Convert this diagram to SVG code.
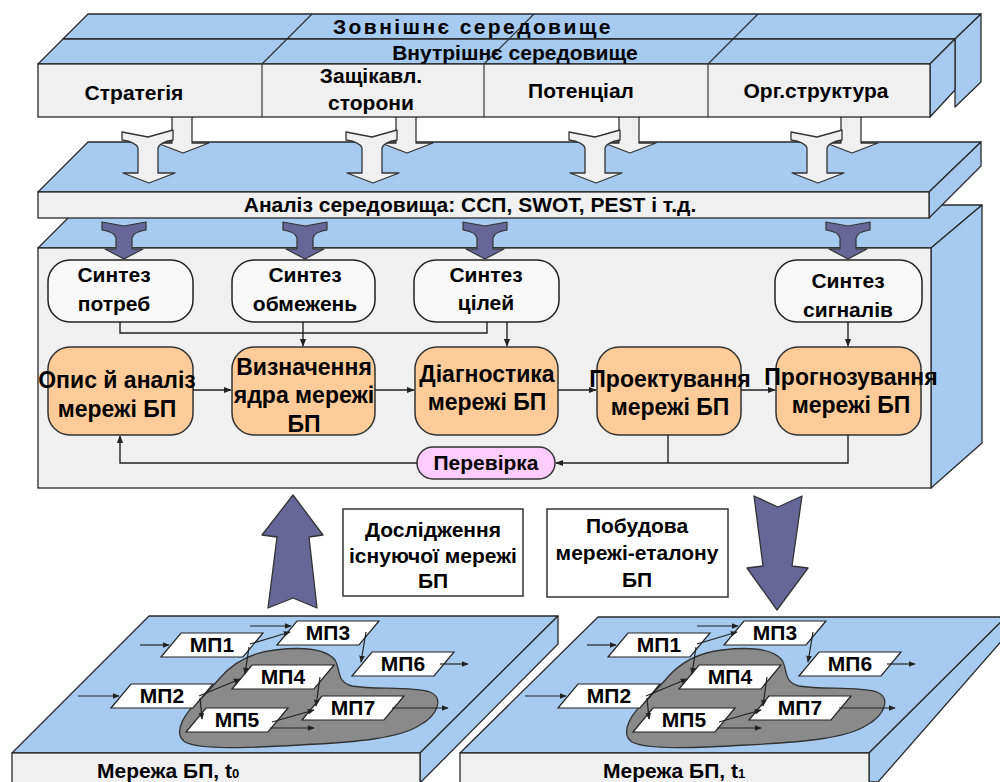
<svg xmlns="http://www.w3.org/2000/svg" xmlns:xlink="http://www.w3.org/1999/xlink" width="1000" height="782" viewBox="0 0 1000 782">
<style>
.face{fill:#A6CAF0;stroke:#2a2a2a;stroke-width:1.3;stroke-linejoin:round}
.front{fill:#F0F0F0;stroke:#2a2a2a;stroke-width:1.3}
.sep{stroke:#2a2a2a;stroke-width:1.1;fill:none}
.t{font-family:"Liberation Sans",Arial,sans-serif;font-weight:bold;font-size:21px;fill:#000;text-anchor:middle}
.tb{font-size:23px}
.syn{fill:#F8F8F8;stroke:#222;stroke-width:1.5}
.proc{fill:#FFCC99;stroke:#333;stroke-width:1.5}
.chk{fill:#FFCCFF;stroke:#333;stroke-width:1.5}
.conn{fill:none;stroke:#222;stroke-width:1.4}
.nconn{fill:none;stroke:#222;stroke-width:1.2}
.warr{fill:#F0F0F0;stroke:#333;stroke-width:1.3;stroke-linejoin:round}
.parr{fill:#666699;stroke:#333;stroke-width:1.2;stroke-linejoin:round}
.big{fill:#666699;stroke:#333;stroke-width:1.3;stroke-linejoin:round}
.mp{fill:#fff;stroke:#222;stroke-width:1.2}
.box{fill:#fff;stroke:#333;stroke-width:1.5}
.blob{fill:#8a8a8a;stroke:#333;stroke-width:1.3}
</style>
<defs>
<marker id="ah" viewBox="0 0 10 10" refX="9" refY="5" markerWidth="8" markerHeight="8" markerUnits="userSpaceOnUse" orient="auto"><path d="M0,1 L10,5 L0,9 Z" fill="#222"/></marker>
<marker id="ahs" viewBox="0 0 10 10" refX="9" refY="5" markerWidth="7" markerHeight="7" markerUnits="userSpaceOnUse" orient="auto"><path d="M0,1 L10,5 L0,9 Z" fill="#222"/></marker>
<path id="wa" class="warr" d="M-26,2 L0,7 L25,0 L25,10 Q12,12 10,18 L10,43 L27,43 L1,53 L-25,43 L-10,43 L-10,18 Q-12,12 -26,10 Z"/>
<path id="pa" class="parr" d="M-22,0 L0,4 L22,0 L22,8 Q9,10 8,16 L8,27 L19,27 L0,37 L-19,27 L-8,27 L-8,16 Q-9,10 -22,8 Z"/>
<path id="para" class="mp" d="M-31,-12 L51,-12 L31,12 L-51,12 Z"/>
</defs>
<rect width="1000" height="782" fill="#fff"/>

<!-- core slab -->
<g id="core-slab">
<polygon class="face" points="81,205 982,205 931,248 38,248"/>
<polygon class="face" points="931,248 982,205 982,443 931,488"/>
<rect class="front" x="38" y="248" width="893" height="240"/>
</g>

<!-- analysis band -->
<g id="analysis">
<polygon class="face" points="88,142 981,142 929,192 38,192"/>
<polygon class="face" points="929,192 981,142 981,166 929,218"/>
<rect class="front" x="38" y="192" width="891" height="26"/>
<text class="t" x="470" y="212">Аналіз середовища: ССП, SWOT, PEST і т.д.</text>
</g>

<!-- back white arrows -->
<g id="white-arrows-back">
<use xlink:href="#wa" href="#wa" transform="translate(182,100)"/>
<use xlink:href="#wa" href="#wa" transform="translate(406,100)"/>
<use xlink:href="#wa" href="#wa" transform="translate(629,100)"/>
<use xlink:href="#wa" href="#wa" transform="translate(851,100)"/>
</g>

<!-- top slab -->
<g id="environment">
<polygon class="face" points="88,14 981,14 955,39 63,39"/>
<polygon class="face" points="955,39 981,14 981,82 955,107"/>
<polygon class="face" points="63,39 955,39 930,64 38,64"/>
<polygon class="face" points="930,64 955,39 955,90 930,117"/>
<rect class="front" x="38" y="64" width="892" height="53"/>
<path class="sep" d="M262,64 L312,14 M484,64 L534,14 M708,64 L758,14 M262,64 V117 M484,64 V117 M708,64 V117"/>
<text class="t" x="473" y="34" letter-spacing="2.4">Зовнішнє середовище</text>
<text class="t" x="515" y="60">Внутрішнє середовище</text>
</g>
<g id="strategy"><text class="t" x="134" y="100">Стратегія</text></g>
<g id="stakeholders"><text class="t" x="371" y="83">Защікавл.</text><text class="t" x="371" y="110">сторони</text></g>
<g id="potential"><text class="t" x="581" y="98">Потенціал</text></g>
<g id="orgstructure"><text class="t" x="816" y="98">Орг.структура</text></g>

<!-- front white arrows -->
<g id="white-arrows-front">
<use xlink:href="#wa" href="#wa" transform="translate(148,130)"/>
<use xlink:href="#wa" href="#wa" transform="translate(372,130)"/>
<use xlink:href="#wa" href="#wa" transform="translate(595,130)"/>
<use xlink:href="#wa" href="#wa" transform="translate(817,130)"/>
</g>

<!-- purple arrows -->
<g id="purple-arrows">
<use xlink:href="#pa" href="#pa" transform="translate(124,222)"/>
<use xlink:href="#pa" href="#pa" transform="translate(305,222)"/>
<use xlink:href="#pa" href="#pa" transform="translate(485,222)"/>
<use xlink:href="#pa" href="#pa" transform="translate(848,222)"/>
</g>

<!-- core nodes -->
<g id="syn-needs"><rect class="syn" x="48" y="260" width="145" height="62" rx="22"/><text class="t" x="114" y="282">Синтез</text><text class="t" x="114" y="311">потреб</text></g>
<g id="syn-limits"><rect class="syn" x="232" y="260" width="143" height="62" rx="22"/><text class="t" x="305" y="282">Синтез</text><text class="t" x="305" y="311">обмежень</text></g>
<g id="syn-goals"><rect class="syn" x="414" y="260" width="145" height="62" rx="22"/><text class="t" x="486" y="282">Синтез</text><text class="t" x="486" y="310">цілей</text></g>
<g id="syn-signals"><rect class="syn" x="775" y="260" width="147" height="62" rx="22"/><text class="t" x="848" y="288">Синтез</text><text class="t" x="848" y="317">сигналів</text></g>

<g id="describe"><rect class="proc" x="48" y="347" width="145" height="88" rx="22"/><text class="t tb" x="117" y="388">Опис й аналіз</text><text class="t tb" x="117" y="417">мережі БП</text></g>
<g id="core-def"><rect class="proc" x="232" y="347" width="143" height="88" rx="22"/><text class="t tb" x="304" y="375">Визначення</text><text class="t tb" x="304" y="403">ядра мережі</text><text class="t tb" x="304" y="432">БП</text></g>
<g id="diagnostics"><rect class="proc" x="415" y="347" width="143" height="88" rx="22"/><text class="t tb" x="487" y="382">Діагностика</text><text class="t tb" x="487" y="410">мережі БП</text></g>
<g id="design"><rect class="proc" x="597" y="347" width="144" height="88" rx="22"/><text class="t tb" x="670" y="387">Проектування</text><text class="t tb" x="670" y="415">мережі БП</text></g>
<g id="forecast"><rect class="proc" x="776" y="347" width="145" height="88" rx="22"/><text class="t tb" x="851" y="385">Прогнозування</text><text class="t tb" x="851" y="413">мережі БП</text></g>
<g id="check"><rect class="chk" x="417" y="447" width="138" height="32" rx="16"/><text class="t" x="486" y="470" font-size="22">Перевірка</text></g>

<g id="connectors">
<path class="conn" d="M120,322 V333 H487 V322"/>
<path class="conn" d="M303,322 V346" marker-end="url(#ah)"/>
<path class="conn" d="M507,322 V346" marker-end="url(#ah)"/>
<path class="conn" d="M848,322 V346" marker-end="url(#ah)"/>
<path class="conn" d="M193,390 H231" marker-end="url(#ah)"/>
<path class="conn" d="M375,390 H414" marker-end="url(#ah)"/>
<path class="conn" d="M558,390 H596" marker-end="url(#ah)"/>
<path class="conn" d="M741,390 H775" marker-end="url(#ah)"/>
<path class="conn" d="M668,435 V463"/>
<path class="conn" d="M848,435 V463 H556" marker-end="url(#ah)"/>
<path class="conn" d="M417,463 H120 V436" marker-end="url(#ah)"/>
</g>

<!-- big arrows -->
<g id="arrow-up"><path class="big" d="M293,495 L323,535 L309,537 L317,608 L293,598 L268,608 L277,537 L262,535 Z"/></g>
<g id="arrow-down"><path class="big" d="M754,496 L778,507 L802,496 L792,566 L808,568 L777,610 L747,568 L763,566 Z"/></g>

<g id="research"><rect class="box" x="343" y="509" width="180" height="87"/><text class="t" x="433" y="537">Дослідження</text><text class="t" x="433" y="563">існуючої мережі</text><text class="t" x="433" y="588">БП</text></g>
<g id="build"><rect class="box" x="547" y="509" width="181" height="88"/><text class="t" x="637" y="533">Побудова</text><text class="t" x="637" y="560">мережі-еталону</text><text class="t" x="637" y="587">БП</text></g>

<!-- bottom left slab -->
<g id="slab-t0">
<polygon class="face" points="149,616 558,616 420,753 12,753"/>
<polygon class="face" points="420,753 558,616 558,644 421,782 420,782"/>
<rect class="front" x="12" y="753" width="408" height="40"/>
<text class="t" x="97" y="778" text-anchor="start" style="text-anchor:start">Мережа БП, t<tspan font-size="13">0</tspan></text>
</g>
<!-- bottom right slab -->
<g id="slab-t1">
<polygon class="face" points="598,617 1006,617 869,753 460,753"/>
<polygon class="face" points="869,753 1006,617 1006,636 878,782 869,782"/>
<rect class="front" x="460" y="753" width="409" height="40"/>
<text class="t" x="603" y="778" style="text-anchor:start">Мережа БП, t<tspan font-size="13">1</tspan></text>
</g>

<g id="net-t0">
<path class="blob" d="M220,678 C232,664 248,653 275,650 C300,647 325,648 335,660 C341,670 336,682 352,686 C375,690 410,686 430,692 C444,698 438,715 420,725 C400,738 360,742 300,745 C250,748 200,750 185,742 C172,733 185,712 200,700 C207,692 214,685 220,678 Z"/>
<g id="t0-mp1" transform="translate(212,645)"><use xlink:href="#para" href="#para"/><text class="t" y="7">МП1</text></g>
<g id="t0-mp3" transform="translate(328,633)"><use xlink:href="#para" href="#para"/><text class="t" y="7">МП3</text></g>
<g id="t0-mp6" transform="translate(403,664)"><use xlink:href="#para" href="#para"/><text class="t" y="7">МП6</text></g>
<g id="t0-mp4" transform="translate(283,677)"><use xlink:href="#para" href="#para"/><text class="t" y="7">МП4</text></g>
<g id="t0-mp2" transform="translate(162,696)"><use xlink:href="#para" href="#para"/><text class="t" y="7">МП2</text></g>
<g id="t0-mp5" transform="translate(237,720)"><use xlink:href="#para" href="#para"/><text class="t" y="7">МП5</text></g>
<g id="t0-mp7" transform="translate(353,708)"><use xlink:href="#para" href="#para"/><text class="t" y="7">МП7</text></g>
<g id="t0-connectors">
<path class="nconn" d="M140,645 H169" marker-end="url(#ahs)"/>
<path class="nconn" d="M250,626 H291" marker-end="url(#ahs)"/>
<path class="nconn" d="M78,696 H119" marker-end="url(#ahs)"/>
<path class="nconn" d="M440,664 H468" marker-end="url(#ahs)"/>
<path class="nconn" d="M392,708 H448" marker-end="url(#ahs)"/>
<path class="nconn" d="M250,644 L290,632" marker-end="url(#ahs)"/>
<path class="nconn" d="M249,647 L245,674" marker-end="url(#ahs)"/>
<path class="nconn" d="M199,696 L240,679" marker-end="url(#ahs)"/>
<path class="nconn" d="M200,698 L202,719" marker-end="url(#ahs)"/>
<path class="nconn" d="M366,632 L361,662" marker-end="url(#ahs)"/>
<path class="nconn" d="M320,677 L316,706" marker-end="url(#ahs)"/>
<path class="nconn" d="M272,722 L314,710" marker-end="url(#ahs)"/>
<path class="nconn" d="M270,728 H314" marker-end="url(#ahs)"/>
</g>
</g>

<g id="net-t1" transform="translate(447,0)">
<path class="blob" d="M220,678 C232,664 248,653 275,650 C300,647 325,648 335,660 C341,670 336,682 352,686 C375,690 410,686 430,692 C444,698 438,715 420,725 C400,738 360,742 300,745 C250,748 200,750 185,742 C172,733 185,712 200,700 C207,692 214,685 220,678 Z"/>
<g id="t1-mp1" transform="translate(212,645)"><use xlink:href="#para" href="#para"/><text class="t" y="7">МП1</text></g>
<g id="t1-mp3" transform="translate(328,633)"><use xlink:href="#para" href="#para"/><text class="t" y="7">МП3</text></g>
<g id="t1-mp6" transform="translate(403,664)"><use xlink:href="#para" href="#para"/><text class="t" y="7">МП6</text></g>
<g id="t1-mp4" transform="translate(283,677)"><use xlink:href="#para" href="#para"/><text class="t" y="7">МП4</text></g>
<g id="t1-mp2" transform="translate(162,696)"><use xlink:href="#para" href="#para"/><text class="t" y="7">МП2</text></g>
<g id="t1-mp5" transform="translate(237,720)"><use xlink:href="#para" href="#para"/><text class="t" y="7">МП5</text></g>
<g id="t1-mp7" transform="translate(353,708)"><use xlink:href="#para" href="#para"/><text class="t" y="7">МП7</text></g>
<g id="t1-connectors">
<path class="nconn" d="M140,645 H169" marker-end="url(#ahs)"/>
<path class="nconn" d="M250,626 H291" marker-end="url(#ahs)"/>
<path class="nconn" d="M78,696 H119" marker-end="url(#ahs)"/>
<path class="nconn" d="M440,664 H468" marker-end="url(#ahs)"/>
<path class="nconn" d="M392,708 H448" marker-end="url(#ahs)"/>
<path class="nconn" d="M250,644 L290,632" marker-end="url(#ahs)"/>
<path class="nconn" d="M249,647 L245,674" marker-end="url(#ahs)"/>
<path class="nconn" d="M199,696 L240,679" marker-end="url(#ahs)"/>
<path class="nconn" d="M200,698 L202,719" marker-end="url(#ahs)"/>
<path class="nconn" d="M366,632 L361,662" marker-end="url(#ahs)"/>
<path class="nconn" d="M320,677 L316,706" marker-end="url(#ahs)"/>
<path class="nconn" d="M272,722 L314,710" marker-end="url(#ahs)"/>
<path class="nconn" d="M270,728 H314" marker-end="url(#ahs)"/>
</g>
</g>
</svg>
